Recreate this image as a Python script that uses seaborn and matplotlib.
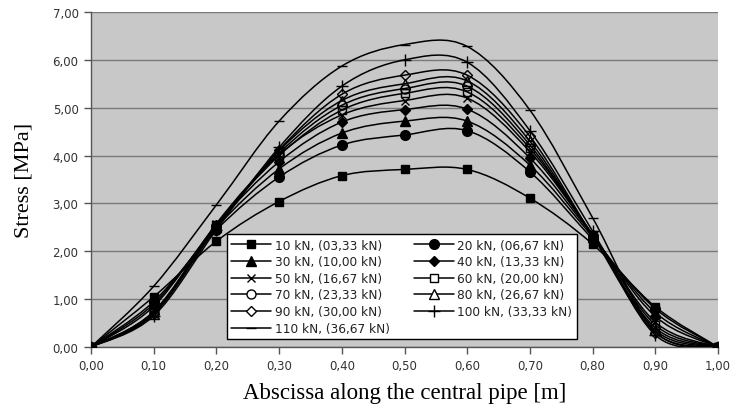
import numpy as np
import pandas as pd
import seaborn as sns
import matplotlib
matplotlib.use("Agg")
import matplotlib.pyplot as plt
from matplotlib.path import Path
from matplotlib.patches import PathPatch
from matplotlib.lines import Line2D
from matplotlib.ticker import FuncFormatter

# ---------------- data ----------------
abscissa = [0.0, 0.1, 0.2, 0.3, 0.4, 0.5, 0.6, 0.7, 0.8, 0.9, 1.0]

labels = ["10 kN, (03,33 kN)", "20 kN, (06,67 kN)", "30 kN, (10,00 kN)",
          "40 kN, (13,33 kN)", "50 kN, (16,67 kN)", "60 kN, (20,00 kN)",
          "70 kN, (23,33 kN)", "80 kN, (26,67 kN)", "90 kN, (30,00 kN)",
          "100 kN, (33,33 kN)", "110 kN, (36,67 kN)"]

s10 = [0, 1.05, 2.21, 3.04, 3.58, 3.71, 3.71, 3.11, 2.15, 0.84, 0]
s20 = [0, 0.95, 2.45, 3.55, 4.22, 4.43, 4.52, 3.66, 2.25, 0.80, 0]
s30 = [0, 0.90, 2.50, 3.72, 4.47, 4.72, 4.72, 3.80, 2.30, 0.72, 0]
s40 = [0, 0.85, 2.55, 3.87, 4.70, 4.96, 4.97, 3.95, 2.33, 0.64, 0]
s50 = [0, 0.68, 2.58, 4.02, 4.85, 5.15, 5.20, 4.08, 2.35, 0.52, 0]
s60 = [0, 0.74, 2.55, 4.00, 4.95, 5.30, 5.33, 4.15, 2.35, 0.46, 0]
s70 = [0, 0.74, 2.52, 4.05, 5.05, 5.40, 5.45, 4.22, 2.32, 0.40, 0]
s80 = [0, 0.70, 2.50, 4.10, 5.15, 5.50, 5.56, 4.30, 2.32, 0.35, 0]
s90 = [0, 0.70, 2.50, 4.12, 5.28, 5.68, 5.68, 4.40, 2.32, 0.30, 0]
s100 = [0, 0.65, 2.45, 4.17, 5.45, 6.00, 5.95, 4.52, 2.42, 0.25, 0]
s110 = [0, 1.27, 2.97, 4.72, 5.87, 6.32, 6.28, 4.95, 2.70, 0.32, 0]

series = [s10, s20, s30, s40, s50, s60, s70, s80, s90, s100, s110]

x_ticks = [0.0, 0.1, 0.2, 0.3, 0.4, 0.5, 0.6, 0.7, 0.8, 0.9, 1.0]
y_ticks = [0, 1, 2, 3, 4, 5, 6, 7]

# marker styles: (marker, filled, size)
styles = [("s", True, 5.5), ("o", True, 7.0), ("^", True, 6.5), ("D", True, 5.0),
          ("x", False, 6.0), ("s", False, 5.5), ("o", False, 6.5), ("^", False, 6.5),
          ("D", False, 5.5), ("+", False, 8.0), ("_", False, 7.0)]

# ---------------- figure ----------------
sns.set_theme(style="white")
plt.rcParams["font.family"] = ["DejaVu Sans"]

fig = plt.figure(figsize=(7.36, 4.14), dpi=100)
ax = fig.add_axes([91 / 736, 1 - 348 / 414, (718 - 91) / 736, (348 - 13) / 414])
ax.set_facecolor("#c8c8c8")

def smooth_path(xs, ys):
    # Excel-like smoothed line drawn as cubic Bezier segments through the points
    pts = np.column_stack([xs, ys]).astype(float)
    n = len(pts)
    verts = [pts[0]]
    codes = [Path.MOVETO]
    for i in range(n - 1):
        p0 = pts[i - 1] if i > 0 else pts[i]
        p1 = pts[i]
        p2 = pts[i + 1]
        p3 = pts[i + 2] if i + 2 < n else pts[i + 1]
        c1 = p1 + (p2 - p0) / 6.0
        c2 = p2 - (p3 - p1) / 6.0
        verts += [c1, c2, p2]
        codes += [Path.CURVE4] * 3
    return Path(verts, codes)

handles = []
for lab, vals, (mk, filled, ms) in zip(labels, series, styles):
    ax.add_patch(PathPatch(smooth_path(abscissa, vals), facecolor="none",
                           edgecolor="black", lw=1.1, zorder=3))
    df = pd.DataFrame({"x": abscissa, "y": vals})
    sns.lineplot(data=df, x="x", y="y", ax=ax, color="black", linestyle="none",
                 marker=mk, markersize=ms,
                 markerfacecolor="black" if filled else "none",
                 markeredgecolor="black", markeredgewidth=1.0,
                 legend=False, zorder=4)
    handles.append(Line2D([0], [0], color="black", lw=1.1, marker=mk,
                          markersize=ms, markerfacecolor="black" if filled else "white",
                          markeredgecolor="black", markeredgewidth=1.0, label=lab))

# reorder so the two-column legend reads row by row
ordered = handles[0::2] + handles[1::2]

ax.set_xlim(0, 1.0)
ax.set_ylim(0, 7)
ax.set_xticks(x_ticks)
ax.set_yticks(y_ticks)
fmt = FuncFormatter(lambda v, p: f"{v:.2f}".replace(".", ","))
ax.xaxis.set_major_formatter(fmt)
ax.yaxis.set_major_formatter(fmt)
ax.yaxis.grid(True, color="#7a7a7a", lw=1.0)
ax.xaxis.grid(False)
ax.set_axisbelow(True)
for sp in ["top", "right"]:
    ax.spines[sp].set_visible(False)
for sp in ["left", "bottom"]:
    ax.spines[sp].set_color("#555555")
    ax.spines[sp].set_linewidth(1.0)
ax.tick_params(axis="both", which="major", direction="out", length=5, width=1,
               color="#555555", labelsize=8.5, labelcolor="#333333", pad=4,
               bottom=True, left=True)

serif = ["Liberation Serif", "DejaVu Serif"]
ax.set_xlabel("Abscissa along the central pipe [m]", fontsize=16.5, family=serif,
              color="black", labelpad=7)
ax.set_ylabel("Stress [MPa]", fontsize=16, family=serif, color="black", labelpad=14)

leg = ax.legend(handles=ordered, ncol=2, loc="lower left",
                bbox_to_anchor=(0.217, 0.024), frameon=True, fancybox=False,
                framealpha=1, edgecolor="black", facecolor="white",
                fontsize=8.7, handlelength=3.3, handletextpad=0.3,
                columnspacing=2.0, labelspacing=0.3, borderpad=0.35,
                borderaxespad=0)
leg.get_frame().set_linewidth(1.0)
leg.set_zorder(10)
for t in leg.get_texts():
    t.set_color("#222222")

fig.savefig("out.png", dpi=100)
